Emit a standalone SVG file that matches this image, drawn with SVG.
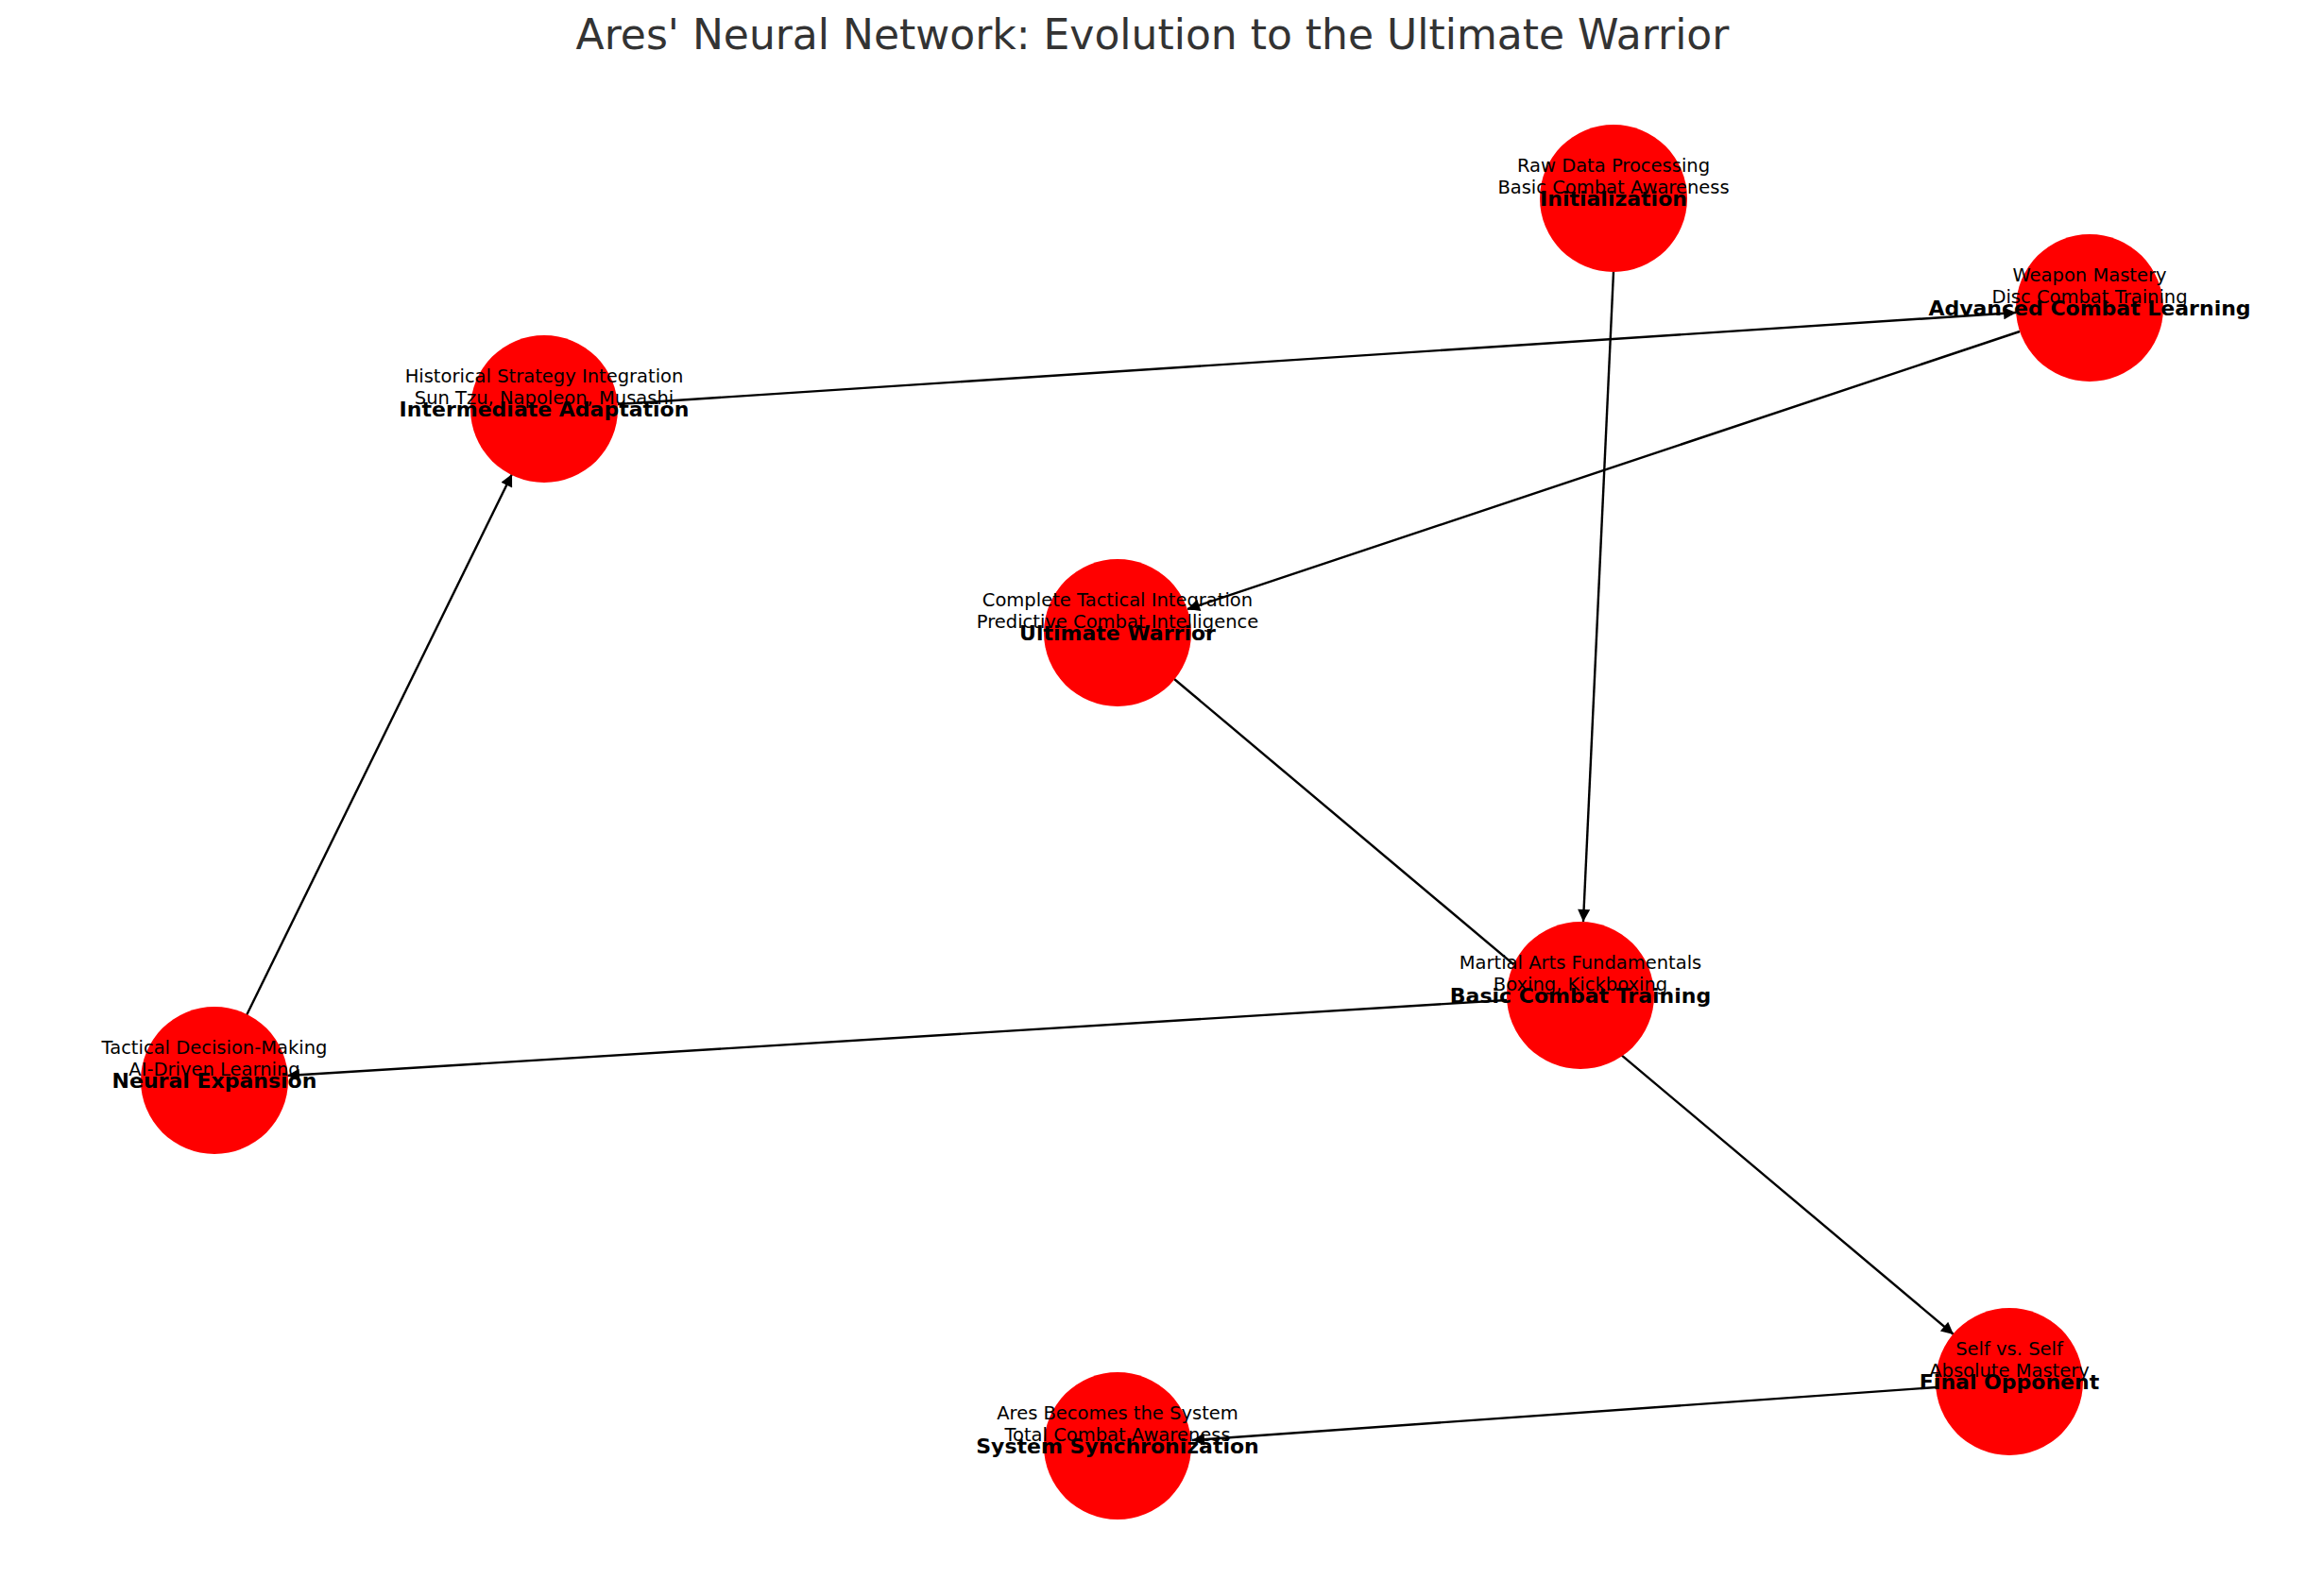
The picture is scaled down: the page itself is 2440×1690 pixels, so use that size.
<svg xmlns="http://www.w3.org/2000/svg" width="2440" height="1690" viewBox="0 0 2440 1690">
<style>
.n{fill:#ff0000}
.s{font-family:"DejaVu Sans",sans-serif;font-size:19.5px;text-anchor:middle;fill:#000}
.b{font-family:"DejaVu Sans",sans-serif;font-size:22px;font-weight:bold;text-anchor:middle;fill:#000}
.e{stroke:#000;stroke-width:2.4;fill:none;marker-end:url(#a)}
</style>
<defs><marker id="a" viewBox="0 0 10 10" refX="10" refY="5" markerUnits="userSpaceOnUse" markerWidth="16" markerHeight="13" orient="auto"><path d="M0,0L10,5L0,10z" fill="#000"/></marker></defs>
<rect width="2440" height="1690" fill="#fff"/>
<text x="1220" y="52" font-family="DejaVu Sans,sans-serif" font-size="44" fill="#333" text-anchor="middle">Ares' Neural Network: Evolution to the Ultimate Warrior</text>
<g id="edges">
<line class="e" x1="1708" y1="288" x2="1676" y2="976"/>
<line class="e" x1="1595" y1="1059" x2="304" y2="1139"/>
<line class="e" x1="261" y1="1075" x2="542" y2="502"/>
<line class="e" x1="654" y1="428" x2="2134" y2="331"/>
<line class="e" x1="2138" y1="351" x2="1257" y2="645"/>
<line class="e" x1="1243" y1="719" x2="2068" y2="1413"/>
<line class="e" x1="2050" y1="1469" x2="1262" y2="1525"/>
</g>
<g id="init"><circle class="n" cx="1708" cy="210" r="78"/><text class="s" x="1708" y="182">Raw Data Processing</text><text class="s" x="1708" y="205">Basic Combat Awareness</text><text class="b" x="1708" y="218">Initialization</text></g>
<g id="acl"><circle class="n" cx="2212" cy="326" r="78"/><text class="s" x="2212" y="298">Weapon Mastery</text><text class="s" x="2212" y="321">Disc Combat Training</text><text class="b" x="2212" y="334">Advanced Combat Learning</text></g>
<g id="ia"><circle class="n" cx="576" cy="433" r="78"/><text class="s" x="576" y="405">Historical Strategy Integration</text><text class="s" x="576" y="428">Sun Tzu, Napoleon, Musashi</text><text class="b" x="576" y="441">Intermediate Adaptation</text></g>
<g id="uw"><circle class="n" cx="1183" cy="670" r="78"/><text class="s" x="1183" y="642">Complete Tactical Integration</text><text class="s" x="1183" y="665">Predictive Combat Intelligence</text><text class="b" x="1183" y="678">Ultimate Warrior</text></g>
<g id="bct"><circle class="n" cx="1673" cy="1054" r="78"/><text class="s" x="1673" y="1026">Martial Arts Fundamentals</text><text class="s" x="1673" y="1049">Boxing, Kickboxing</text><text class="b" x="1673" y="1062">Basic Combat Training</text></g>
<g id="ne"><circle class="n" cx="227" cy="1144" r="78"/><text class="s" x="227" y="1116">Tactical Decision-Making</text><text class="s" x="227" y="1139">AI-Driven Learning</text><text class="b" x="227" y="1152">Neural Expansion</text></g>
<g id="fo"><circle class="n" cx="2127" cy="1463" r="78"/><text class="s" x="2127" y="1435">Self vs. Self</text><text class="s" x="2127" y="1458">Absolute Mastery</text><text class="b" x="2127" y="1471">Final Opponent</text></g>
<g id="ss"><circle class="n" cx="1183" cy="1531" r="78"/><text class="s" x="1183" y="1503">Ares Becomes the System</text><text class="s" x="1183" y="1526">Total Combat Awareness</text><text class="b" x="1183" y="1539">System Synchronization</text></g>
</svg>
